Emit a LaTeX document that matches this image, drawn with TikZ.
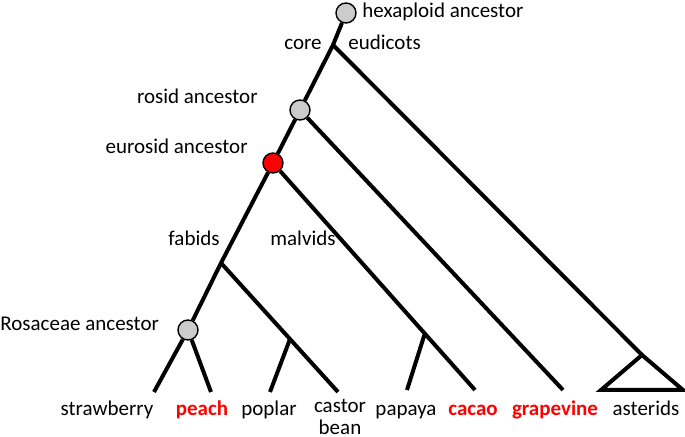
\documentclass[tikz,border=0pt]{standalone}
\usepackage{fontspec}
\setmainfont{Carlito}
\usetikzlibrary{positioning}

\begin{document}
\begin{tikzpicture}[x=0.5pt,y=-0.5pt,
            anc/.style = {circle, draw, fill=gray!40, minimum size=10pt, inner sep=0pt, line width=0.7pt},
            branch/.style = {line width=2pt},
            lbl/.style = {font=\fontsize{10.5}{11}\selectfont, inner sep=0pt},
            hit/.style = {lbl, text=red, font=\fontsize{10.5}{11}\selectfont\bfseries}
            ]
            \useasboundingbox (0,0) rectangle (685,437);
            % ancestors
            \node[anc] (hexa) at (346,13) {};
            \node[anc] (rosid) at (300,110) {};
            \node[anc, fill=red] (eurosid) at (273,163) {};
            \node[anc] (rosa) at (188,330) {};
            % inner junctions
            \coordinate (core) at (333,45);
            \coordinate (fab) at (221,263);
            \coordinate (popj) at (290,339);
            \coordinate (papj) at (425,333);
            \coordinate (apex) at (642,355);
            % tips
            \coordinate (straw) at (154,392);
            \coordinate (peach) at (211,392);
            \coordinate (poplar) at (270,392);
            \coordinate (castor) at (338,392);
            \coordinate (papaya) at (407,390);
            \coordinate (cacao) at (475,390);
            \coordinate (grape) at (563,390);
            \coordinate (astl) at (601,390);
            \coordinate (astr) at (683,390);

            \draw[branch] (hexa) -- (core) -- (rosid) -- (eurosid) -- (fab) -- (rosa);
            \draw[branch] (rosa) -- (straw);
            \draw[branch] (rosa) -- (peach);
            \draw[branch] (fab) -- (castor);
            \draw[branch] (popj) -- (poplar);
            \draw[branch] (eurosid) -- (cacao);
            \draw[branch] (papj) -- (papaya);
            \draw[branch] (rosid) -- (grape);
            \draw[branch] (core) -- (apex);
            \draw[branch, line join=miter] (apex) -- (astr) -- (astl) -- cycle;

            % labels
            \node[lbl, anchor=base west] (lhexa) at (362,18) {hexaploid ancestor};
            \node[lbl, anchor=base east] (lcore) at (322,50) {core};
            \node[lbl, anchor=base west] (leud) at (348,50) {eudicots};
            \node[lbl, anchor=base east] (lrosid) at (258,104) {rosid ancestor};
            \node[lbl, anchor=base east] (leuro) at (248,154) {eurosid ancestor};
            \node[lbl, anchor=base east] (lfab) at (220,246) {fabids};
            \node[lbl, anchor=base west] (lmal) at (270,246) {malvids};
            \node[lbl, anchor=base west] (lrosa) at (0,331) {Rosaceae ancestor};

            \node[lbl, anchor=base] (tstraw) at (107,416) {strawberry};
            \node[hit, anchor=base] (tpeach) at (202,416) {peach};
            \node[lbl, anchor=base] (tpop) at (269,416) {poplar};
            \node[lbl, anchor=north, align=center] (tcast) at (340,399) {castor\\bean};
            \node[lbl, anchor=base] (tpap) at (406,416) {papaya};
            \node[hit, anchor=base] (tcacao) at (473,416) {cacao};
            \node[hit, anchor=base] (tgrape) at (555,416) {grapevine};
            \node[lbl, anchor=base] (tast) at (646,416) {asterids};
        \end{tikzpicture}
\end{document}
